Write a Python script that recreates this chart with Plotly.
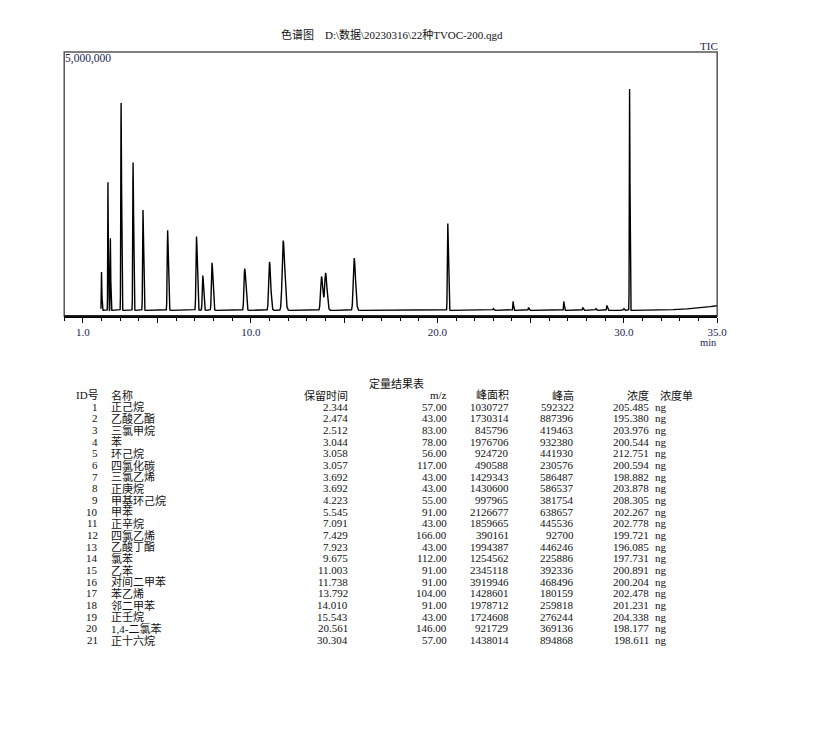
import numpy as np
import plotly.graph_objects as go

# ---------------- Chromatogram (TIC) peaks ----------------
tic_rt = [2.00, 2.344, 2.474, 3.05, 3.692, 4.223, 5.545, 7.091, 7.429, 7.923,
          9.675, 11.003, 11.738, 13.792, 14.010, 15.543, 20.561,
          23.0, 24.06, 24.89, 26.78, 27.8, 28.5, 29.09, 30.0, 30.304]
tic_height = [725000, 2426000, 1368000, 3930000, 2800000, 1900000, 1520000, 1400000, 661000, 901000,
              793000, 920000, 1323000, 640000, 705000, 990000, 1644000,
              32000, 170000, 56000, 170000, 56000, 32000, 94000, 32000, 4195000]
tic_width = [0.012, 0.012, 0.012, 0.016, 0.018, 0.020, 0.024, 0.028, 0.028, 0.032,
             0.038, 0.042, 0.055, 0.048, 0.048, 0.048, 0.022,
             0.02, 0.015, 0.02, 0.015, 0.02, 0.02, 0.02, 0.02, 0.014]
baseline_t = [1.97, 31.0, 32.0, 33.0, 34.0, 35.0]
baseline_v = [106000, 106000, 112000, 125000, 150000, 195000]

# ---------------- Quantitation table ----------------
ids = list(range(1, 22))
names = ["正己烷", "乙酸乙酯", "三氯甲烷", "苯", "环己烷", "四氯化碳", "三氯乙烯", "正庚烷",
         "甲基环己烷", "甲苯", "正辛烷", "四氯乙烯", "乙酸丁酯", "氯苯", "乙苯", "对间二甲苯",
         "苯乙烯", "邻二甲苯", "正壬烷", "1,4-二氯苯", "正十六烷"]
ret_time = [2.344, 2.474, 2.512, 3.044, 3.058, 3.057, 3.692, 3.692, 4.223, 5.545, 7.091,
            7.429, 7.923, 9.675, 11.003, 11.738, 13.792, 14.010, 15.543, 20.561, 30.304]
mz = [57, 43, 83, 78, 56, 117, 43, 43, 55, 91, 43, 166, 43, 112, 91, 91, 104, 91, 43, 146, 57]
area = [1030727, 1730314, 845796, 1976706, 924720, 490588, 1429343, 1430600, 997965, 2126677,
        1859665, 390161, 1994387, 1254562, 2345118, 3919946, 1428601, 1978712, 1724608,
        921729, 1438014]
peak_h = [592322, 887396, 419463, 932380, 441930, 230576, 586487, 586537, 381754, 638657,
          445536, 92700, 446246, 225886, 392336, 468496, 180159, 259818, 276244, 369136, 894868]
conc = [205.485, 195.380, 203.976, 200.544, 212.751, 200.594, 198.882, 203.878, 208.305,
        202.267, 202.778, 199.721, 196.085, 197.731, 200.891, 200.204, 202.478, 201.231,
        204.338, 198.177, 198.611]
unit = "ng"
x_ticks = [1, 5, 10, 15, 20, 25, 30, 35]
x_ticktext = ["1.0", "", "10.0", "", "20.0", "", "30.0", "35.0"]

W, H = 825, 730
FONT = "Liberation Serif, Noto Sans CJK SC"
TXT = "#111111"
TICKC = "#1c2452"

# build trace
t = np.arange(1.97, 35.0001, 0.002)
t = np.unique(np.concatenate([t, np.array(tic_rt)]))
y = np.interp(t, baseline_t, baseline_v)
for rt0, h0, w0 in zip(tic_rt, tic_height, tic_width):
    sig = np.where(t < rt0, w0, w0 * 1.5)
    y = y + h0 * np.exp(-0.5 * ((t - rt0) / sig) ** 2)

fig = go.Figure()
fig.add_trace(go.Scatter(x=t, y=y, mode="lines",
                         line=dict(color="black", width=1.4),
                         hoverinfo="skip", showlegend=False))

x0p, x1p, y0p, y1p = 65, 726, 316, 52
fig.update_layout(
    width=W, height=H, autosize=False,
    margin=dict(l=0, r=0, t=0, b=0, pad=0),
    paper_bgcolor="white", plot_bgcolor="white",
    font=dict(family=FONT, size=11, color=TXT),
    xaxis=dict(domain=[x0p / W, x1p / W], range=[0, 35],
               showgrid=False, zeroline=False,
               showline=True, linecolor="black", linewidth=1.5,
               ticks="outside", ticklen=5, tickwidth=1, tickcolor="black",
               tickmode="array", tickvals=x_ticks, ticktext=x_ticktext,
               tickfont=dict(family=FONT, size=11, color=TICKC),
               minor=dict(ticks="outside", ticklen=3, tickwidth=1, tickcolor="black",
                          tick0=0, dtick=1, showgrid=False)),
    yaxis=dict(domain=[1 - y0p / H, 1 - y1p / H], range=[0, 5000000],
               showgrid=False, zeroline=False, showticklabels=False, ticks=""),
)

# frame
fig.add_shape(type="rect", xref="x domain", yref="y domain", x0=0, x1=1, y0=0, y1=1,
              line=dict(color="#555555", width=1.5), layer="above")
fig.add_shape(type="line", xref="x domain", yref="y domain", x0=0, x1=1, y0=0, y1=0,
              line=dict(color="black", width=1.5), layer="above")

ann = []


def add_text(px, py, text, anchor="left", size=11, color=TXT):
    ann.append(dict(x=px / W, y=1 - py / H, xref="paper", yref="paper", text=text,
                    showarrow=False, xanchor=anchor, yanchor="middle",
                    borderpad=0, borderwidth=0,
                    font=dict(family=FONT, size=size, color=color)))


add_text(397, 35, "色谱图　D:\\数据\\20230316\\22种TVOC-200.qgd", "center", 11)
add_text(727, 46, "TIC", "right", 11, TICKC)
add_text(66, 58, "5,000,000", "left", 11.5, TICKC)
add_text(726, 342, "min", "right", 10.5, TICKC)

# table
add_text(401, 384, "定量结果表", "center", 11)
hy = 395
add_text(77, hy, "ID号", "left")
add_text(112.5, hy, "名称", "left")
add_text(352.5, hy, "保留时间", "right")
add_text(452, hy, "m/z", "right")
add_text(515.5, hy, "峰面积", "right")
add_text(581, hy, "峰高", "right")
add_text(657, hy, "浓度", "right")
add_text(668, hy, "浓度单", "left")

for i in range(len(ids)):
    ry = 406.7 + i * 11.67
    add_text(99.5, ry, str(ids[i]), "right")
    add_text(112.5, ry, names[i], "left")
    add_text(352.5, ry, f"{ret_time[i]:.3f}", "right")
    add_text(452, ry, f"{mz[i]:.2f}", "right")
    add_text(515.5, ry, f"{area[i]}", "right")
    add_text(581, ry, f"{peak_h[i]}", "right")
    add_text(657, ry, f"{conc[i]:.3f}", "right")
    add_text(663, ry, unit, "left")

fig.update_layout(annotations=ann)
fig.write_html("out.html", config={"responsive": False, "displayModeBar": False},
               post_script="document.body.style.margin='0';document.body.style.padding='0';")
